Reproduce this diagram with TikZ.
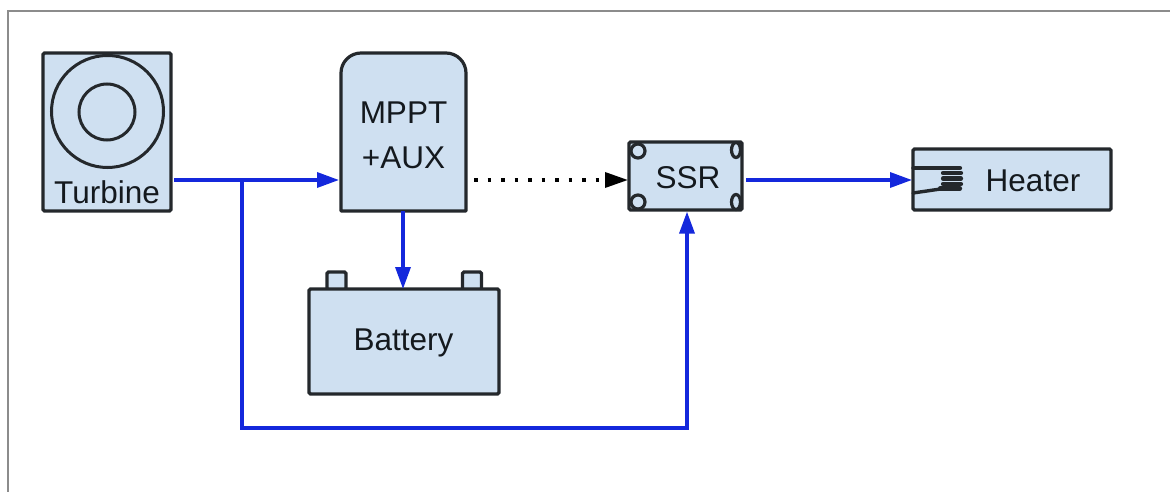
\documentclass[tikz,border=0pt]{standalone}
\usepackage{fontspec}
\setmainfont{Liberation Sans}
\usetikzlibrary{arrows.meta,shapes.geometric}
\definecolor{boxfill}{HTML}{CFE0F1}
\definecolor{boxline}{HTML}{24282C}
\definecolor{wire}{HTML}{1428DC}
\definecolor{labeltext}{HTML}{14191E}
\definecolor{framegray}{HTML}{8C8C8C}
\tikzset{
  x=1pt,y=-1pt,
  box/.style={draw=boxline,fill=boxfill,line width=3.2pt,rounded corners=1.5pt,inner sep=0pt},
  label only/.style={inner sep=0pt,text=labeltext,font=\fontsize{31.5}{45}\selectfont,align=center},
  ring/.style={draw=boxline,line width=3pt,circle,inner sep=0pt},
  lug/.style={draw=boxline,fill=boxfill,line width=3.2pt,ellipse,inner sep=0pt},
  wireline/.style={draw=wire,line width=3.4pt,-{Triangle[length=22pt,width=15pt]}},
  ctrlline/.style={draw=black,line width=3.4pt,dash pattern=on 3.5pt off 10pt,
     -{Triangle[length=23pt,width=15pt]}},
  coilline/.style={draw=boxline,line width=3.4pt,line cap=round},
}
\begin{document}
\begin{tikzpicture}
\useasboundingbox (0,0) rectangle (1170,492);
% outer frame
\coordinate (frameA) at (8,492);
\coordinate (frameB) at (8,11);
\coordinate (frameC) at (1170,11);
\draw[framegray,line width=1.8pt] (frameA) -- (frameB) -- (frameC);

% Turbine
\node[box,minimum width=128pt,minimum height=158pt] (turb) at (107,132) {};
\node[ring,minimum size=112pt] (turbouter) at (107.5,111.5) {};
\node[ring,minimum size=56pt] (turbinner) at (107,112) {};
\node[label only] (turblabel) at (107,192) {Turbine};

% MPPT
\path[draw=boxline,fill=boxfill,line width=3.2pt,line join=round]
  (341,211) -- (341,73) .. controls (341,62) and (350,53) .. (361,53) -- (446,53)
  .. controls (457,53) and (466,62) .. (466,73) -- (466,211) -- cycle;
\node[label only,minimum width=125pt,minimum height=158pt] (mppt) at (403.5,135.5) {MPPT\\+AUX};

% Battery
\node[box,minimum width=19pt,minimum height=18pt] (termA) at (336.5,281) {};
\node[box,minimum width=19pt,minimum height=18pt] (termB) at (472,281) {};
\node[box,minimum width=190pt,minimum height=105pt] (batt) at (404,341.5) {};
\node[label only] (battlabel) at (403.5,343) {Battery};

% SSR
\node[box,minimum width=113pt,minimum height=68pt] (ssr) at (685.5,176) {};
\node[label only] (ssrlabel) at (688,177.5) {SSR};
\node[lug,minimum width=14pt,minimum height=14pt] (lugA) at (638,151) {};
\node[lug,minimum width=9pt,minimum height=15pt] (lugB) at (736,150) {};
\node[lug,minimum width=14pt,minimum height=14pt] (lugC) at (638,202) {};
\node[lug,minimum width=9pt,minimum height=15pt] (lugD) at (736,202) {};

% Heater
\node[box,minimum width=198pt,minimum height=61pt] (heater) at (1012,179.5) {};
\node[label only] (heatlabel) at (1033,180.5) {Heater};
\coordinate (coilA) at (913,168);
\coordinate (coilB) at (913,193);
\coordinate (coilC) at (944,168);
\coordinate (coilD) at (944,188.5);
\draw[coilline] (coilA) -- (coilC);
\draw[coilline] (coilB) -- (coilD);
\draw[coilline,line width=4.2pt]
  (939,168) -- (960,168) (943,173) -- (961,173)
  (943,178.5) -- (961,178.5) (943,184) -- (961,184) (940,188.5) -- (960,188.5);

% connectors
\coordinate (turbout) at (174,180);
\coordinate (mpptin) at (339,180);
\coordinate (tee) at (242,180);
\coordinate (corner1) at (242,428);
\coordinate (corner2) at (687,428);
\coordinate (mpptout) at (474,180);
\coordinate (ssrin) at (628,180);
\coordinate (ssrout) at (746,180);
\coordinate (heatin) at (912,180);
\coordinate (battin) at (403,289);
\coordinate (mpptbase) at (403,211);
\draw[wireline] (turbout) -- (mpptin);
\draw[wireline] (tee) -- (corner1) -- (corner2) -- (ssr.south -| corner2);
\draw[wireline] (mpptbase) -- (battin);
\draw[ctrlline] (mpptout) -- (ssrin);
\draw[wireline] (ssrout) -- (heatin);
\end{tikzpicture}
\end{document}
